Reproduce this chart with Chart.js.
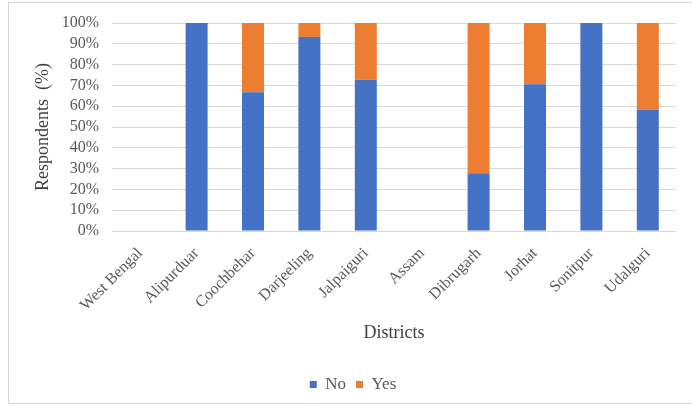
<!DOCTYPE html>
<html>
<head>
<meta charset="utf-8">
<script src="https://cdn.jsdelivr.net/npm/chart.js@4/dist/chart.umd.min.js"></script>
<style>
  html, body { margin: 0; padding: 0; background: #fff; }
  #wrap { width: 692px; height: 406px; position: relative; }
</style>
</head>
<body>
<div id="wrap"><canvas id="chart" width="692" height="406"></canvas></div>
<script>
// Districts surveyed, grouped under their state headings (headings carry no bars)
const districts = ['West Bengal', 'Alipurduar', 'Coochbehar', 'Darjeeling', 'Jalpaiguri',
                   'Assam', 'Dibrugarh', 'Jorhat', 'Sonitpur', 'Udalguri'];
// Share of respondents answering "No" / "Yes" (%)
const noValues  = [null, 100, 66.7, 93.3, 72.7, null, 27.8, 70.6, 100, 58.3];
const yesValues = [null,   0, 33.3,  6.7, 27.3, null, 72.2, 29.4,   0, 41.7];
const yTicks = [0, 10, 20, 30, 40, 50, 60, 70, 80, 90, 100];

const textColor = '#595959';
const gridColor = '#d9d9d9';
const family = '"Liberation Serif", "Times New Roman", serif';

// Light frame around the whole figure
const framePlugin = {
  id: 'frame',
  beforeDraw(chart) {
    const ctx = chart.ctx;
    ctx.save();
    ctx.fillStyle = '#fff';
    ctx.fillRect(0, 0, chart.width, chart.height);
    ctx.strokeStyle = '#d6d6d6';
    ctx.lineWidth = 1;
    ctx.strokeRect(8.5, 2.5, 700, 401);
    ctx.restore();
  }
};

new Chart(document.getElementById('chart'), {
  type: 'bar',
  data: {
    labels: districts,
    datasets: [
      { label: 'No',  data: noValues,  backgroundColor: '#4472C4', borderWidth: 0 },
      { label: 'Yes', data: yesValues, backgroundColor: '#ED7D31', borderWidth: 0 }
    ]
  },
  options: {
    responsive: false,
    animation: false,
    events: [],
    layout: { padding: { left: 30, right: 16, top: 23, bottom: 3 } },
    datasets: { bar: { categoryPercentage: 1, barPercentage: 0.39 } },
    scales: {
      x: {
        stacked: true,
        grid: { display: false },
        border: { display: false },
        ticks: {
          color: textColor,
          font: { family, size: 16 },
          minRotation: 45,
          maxRotation: 45,
          autoSkip: false,
          padding: 5
        },
        title: {
          display: true,
          text: 'Districts',
          color: '#404040',
          font: { family, size: 18 },
          padding: { top: 0, bottom: 22 }
        },
        afterFit(scale) { scale.height = 135; }
      },
      y: {
        stacked: true,
        min: 0,
        max: 100,
        afterBuildTicks(scale) { scale.ticks = yTicks.map(v => ({ value: v })); },
        grid: { color: gridColor, lineWidth: 1, drawTicks: false },
        border: { display: false },
        ticks: {
          color: textColor,
          font: { family, size: 16 },
          padding: 13,
          autoSkip: false,
          callback: v => v + '%'
        },
        title: {
          display: true,
          text: 'Respondents  (%)',
          color: '#404040',
          font: { family, size: 18 },
          padding: { top: 2, bottom: 0 }
        },
        afterFit(scale) { scale.width = 82; }
      }
    },
    plugins: {
      legend: {
        position: 'bottom',
        labels: {
          color: textColor,
          font: { family, size: 17 },
          boxWidth: 7,
          boxHeight: 7,
          padding: 10
        }
      },
      tooltip: { enabled: false }
    }
  },
  plugins: [framePlugin]
});
</script>
</body>
</html>
